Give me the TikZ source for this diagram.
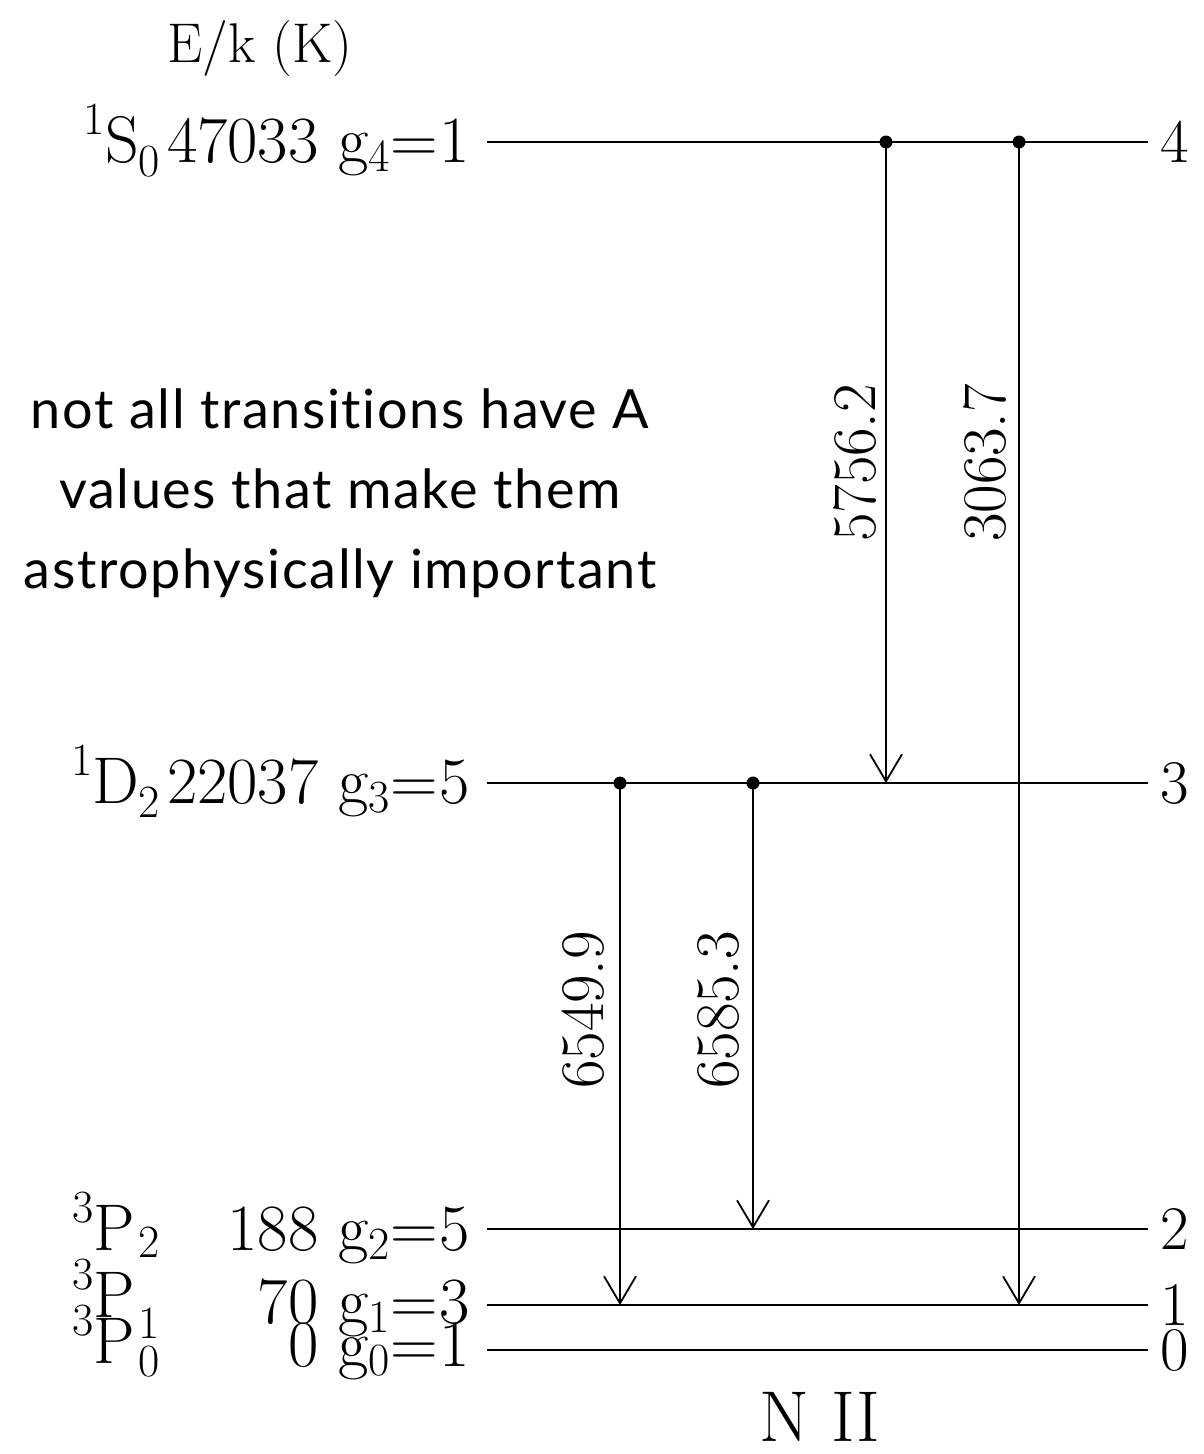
\documentclass[tikz,border=0pt]{standalone}
\usepackage{fontspec}
\usepackage{graphicx}
\newfontfamily\notefont[Ligatures=NoCommon,LetterSpace=3]{Lato}
\usetikzlibrary{arrows.meta}
\newcommand\psup[1]{\raisebox{0.42em}{\scalebox{0.7}{#1}}}
\newcommand\psub[2][0.15em]{\raisebox{-#1}{\scalebox{0.7}{#2}}}
\begin{document}
\begin{tikzpicture}[x=1pt,y=-1pt,
  level/.style={line width=2.4pt},
  trans/.style={line width=1.8pt,-{Straight Barb[length=27pt,width=32pt,line width=1.8pt]}},
  dotnode/.style={circle,fill=black,inner sep=0pt,minimum size=13pt},
  lab/.style={inner sep=0pt,font=\fontsize{66}{70}\selectfont},
  rlab/.style={inner sep=0pt,anchor=west,font=\fontsize{62}{70}\selectfont},
  wl/.style={inner sep=0pt,rotate=90,font=\fontsize{62}{70}\selectfont},
  note/.style={inner sep=0pt,align=center,font=\notefont\fontsize{54}{80}\selectfont}]
\useasboundingbox (0,0) rectangle (1204,1454);
% levels
\foreach \n/\y in {4/142,3/783,2/1229,1/1305,0/1350}{
  \coordinate (a\n) at (487,\y);
  \coordinate (b\n) at (1148,\y);
  \draw[level] (a\n) -- (b\n);
  \node[rlab] (r\n) at (1160,\y) {\n};
}
% left labels
\node[lab,anchor=base east] (l4) at (470,162) {\psup{1}S\psub[0.22em]{0}\kern7pt\relax 47033 g\psub{4}\kern1pt=\kern1pt\relax 1};
\node[lab,anchor=base east] (l3) at (470,803) {\psup{1}D\psub[0.22em]{2}\kern7pt\relax 22037 g\psub{3}\kern1pt=\kern1pt\relax 5};
\node[lab,anchor=base east] (l2) at (470,1250) {188 g\psub{2}\kern1pt=\kern1pt\relax 5};
\node[lab,anchor=base east] (l1) at (470,1323) {70 g\psub{1}\kern1pt=\kern1pt\relax 3};
\node[lab,anchor=base east] (l0) at (470,1366) {0 g\psub{0}\kern1pt=\kern1pt\relax 1};
\node[lab,anchor=base west] (p2) at (72,1250) {\psup{3}P\kern4pt\psub[0.12em]{2}};
\node[lab,anchor=base west] (p1) at (72,1317) {\psup{3}P\kern4pt\psub[0.33em]{1}};
\node[lab,anchor=base west] (p0) at (72,1363) {\psup{3}P\kern4pt\psub[0.2em]{0}};
\node[lab,anchor=base] (ek) at (260,62) {\fontsize{56}{60}\selectfont E/k (K)};
\node[inner sep=0pt,anchor=base,font=\fontsize{72}{80}\selectfont] (nii) at (820,1441) {N II};
% transitions
\node[dotnode] (d1) at (886,142) {};
\node[dotnode] (d2) at (1019,142) {};
\node[dotnode] (d3) at (620,783) {};
\node[dotnode] (d4) at (753,783) {};
\coordinate (e1) at (886,783);
\coordinate (e2) at (1019,1305);
\coordinate (e3) at (620,1305);
\coordinate (e4) at (753,1229);
\draw[trans] (d1.center) -- (e1);
\draw[trans] (d2.center) -- (e2);
\draw[trans] (d3.center) -- (e3);
\draw[trans] (d4.center) -- (e4);
\node[wl] (w1) at (855,463) {5756.2};
\node[wl] (w2) at (985,463) {3063.7};
\node[wl] (w3) at (583,1010) {6549.9};
\node[wl] (w4) at (718,1010) {6585.3};
% note
\node[note] (nt) at (340,493) {not all transitions have A\\values that make them\\astrophysically important};
\end{tikzpicture}
\end{document}
